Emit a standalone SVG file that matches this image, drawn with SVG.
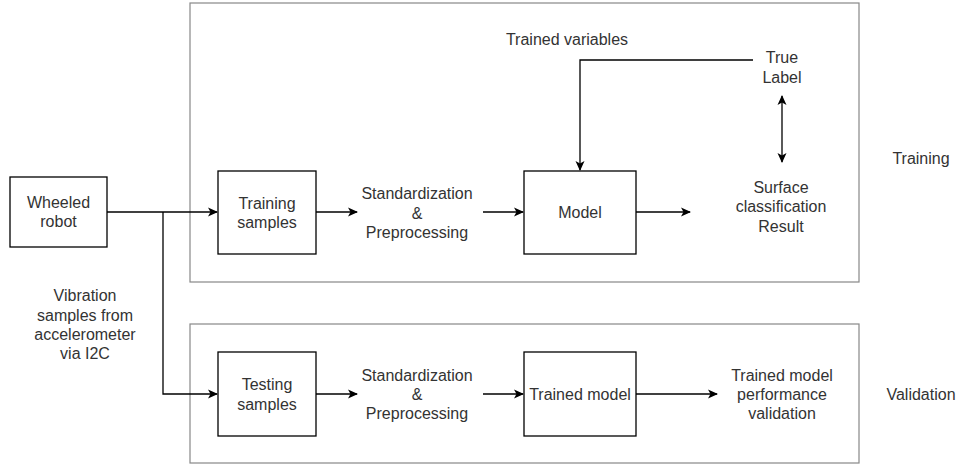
<svg xmlns="http://www.w3.org/2000/svg" width="960" height="464" viewBox="0 0 960 464">
<defs>
<style>
.box{fill:#fff;stroke:#000;stroke-width:1.3}
.frame{fill:#fff;stroke:#888;stroke-width:1.2}
.edge{fill:none;stroke:#000;stroke-width:1.3}
text{font-family:"Liberation Sans",Arial,sans-serif;font-size:16px;fill:#333;text-anchor:middle;dominant-baseline:central}
</style>
<marker id="ah" viewBox="0 0 10 10" refX="9" refY="5" markerWidth="10" markerHeight="10" markerUnits="userSpaceOnUse" orient="auto-start-reverse">
<path d="M0,0.5 L10,5 L0,9.5 L2.5,5 Z" fill="#000"/>
</marker>
</defs>
<g id="training-frame"><rect class="frame" x="190" y="3" width="669" height="279"/></g>
<g id="validation-frame"><rect class="frame" x="190" y="324" width="669" height="139"/></g>
<g id="connectors">
<path class="edge" d="M107,212 H217" marker-end="url(#ah)"/>
<path class="edge" d="M163,212 V394 H217" marker-end="url(#ah)"/>
<path class="edge" d="M316,212 H357" marker-end="url(#ah)"/>
<path class="edge" d="M483,212 H523" marker-end="url(#ah)"/>
<path class="edge" d="M636,212 H690" marker-end="url(#ah)"/>
<path class="edge" d="M753,60 H580 V170" marker-end="url(#ah)"/>
<path class="edge" d="M782,96 V162" marker-start="url(#ah)" marker-end="url(#ah)"/>
<path class="edge" d="M316,394 H357" marker-end="url(#ah)"/>
<path class="edge" d="M483,394 H523" marker-end="url(#ah)"/>
<path class="edge" d="M636,394 H717" marker-end="url(#ah)"/>
</g>
<g id="wheeled-robot"><rect class="box" x="10" y="177" width="97" height="70"/><text x="58.5" y="202">Wheeled</text><text x="58.5" y="221">robot</text></g>
<g id="vibration-label"><text x="85" y="295">Vibration</text><text x="85" y="315">samples from</text><text x="85" y="334">accelerometer</text><text x="85" y="353">via I2C</text></g>
<g id="training-samples"><rect class="box" x="218" y="171" width="98" height="83"/><text x="267" y="203">Training</text><text x="267" y="222">samples</text></g>
<g id="std-prep-train"><text x="417" y="193">Standardization</text><text x="417" y="213">&amp;</text><text x="417" y="232">Preprocessing</text></g>
<g id="model"><rect class="box" x="524" y="171" width="112" height="83"/><text x="580" y="212">Model</text></g>
<g id="surface-result"><text x="781" y="187">Surface</text><text x="781" y="206">classification</text><text x="781" y="226">Result</text></g>
<g id="true-label"><text x="782" y="57">True</text><text x="782" y="77">Label</text></g>
<g id="trained-variables"><text x="567" y="39">Trained variables</text></g>
<g id="training-title"><text x="921" y="158">Training</text></g>
<g id="testing-samples"><rect class="box" x="218" y="352" width="98" height="84"/><text x="267" y="384">Testing</text><text x="267" y="404">samples</text></g>
<g id="std-prep-test"><text x="417" y="375">Standardization</text><text x="417" y="394">&amp;</text><text x="417" y="413">Preprocessing</text></g>
<g id="trained-model"><rect class="box" x="524" y="352" width="112" height="84"/><text x="580" y="394">Trained model</text></g>
<g id="performance-validation"><text x="782" y="375">Trained model</text><text x="782" y="394">performance</text><text x="782" y="413">validation</text></g>
<g id="validation-title"><text x="921" y="394">Validation</text></g>
</svg>
